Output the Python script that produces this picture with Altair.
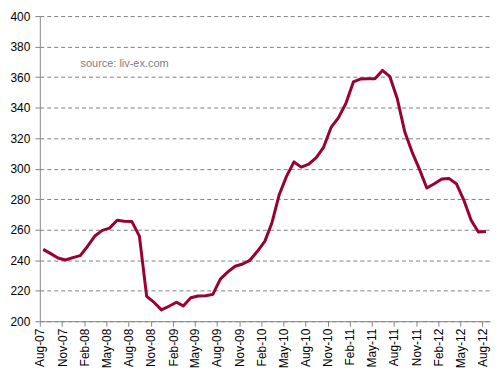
import altair as alt
import pandas as pd

start_year, start_month = 2007, 8
values = [
    247.1, 244.3, 241.4, 240.1, 241.7, 243.0, 249.3, 255.8, 259.5, 261.0,
    266.2, 265.5, 265.3, 255.8, 216.3, 212.3, 207.4, 209.8, 212.4, 210.0,
    215.4, 216.5, 216.7, 217.6, 227.6, 232.3, 236.0, 237.5, 239.9, 245.8,
    252.5, 264.0, 282.9, 294.9, 304.4, 301.0, 302.9, 307.2, 314.0, 327.0,
    333.3, 342.7, 356.8, 358.7, 358.9, 358.9, 364.4, 360.5, 346.0, 324.2,
    311.0, 299.5, 287.3, 290.1, 293.2, 293.6, 290.1, 279.7, 266.2, 258.4,
    258.8,
]

dates = []
for i in range(len(values)):
    m = start_month - 1 + i
    y = start_year + m // 12
    mm = m % 12 + 1
    dates.append(f"{y:04d}-{mm:02d}-15")

df = pd.DataFrame({"date": dates, "value": values})

tick_dates = []
for i in range(0, 61, 3):
    m = start_month - 1 + i
    tick_dates.append(alt.DateTime(year=start_year + m // 12, month=m % 12 + 1, date=1, utc=True))

y_ticks = list(range(200, 401, 20))

FONT = "Liberation Sans"

line = alt.Chart(df).mark_line(color="#990033", strokeWidth=3, strokeJoin="round").encode(
    x=alt.X(
        "date:T",
        scale=alt.Scale(
            type="utc",
            domain=[alt.DateTime(year=2007, month=8, date=1, utc=True),
                    alt.DateTime(year=2012, month=9, date=1, utc=True)],
        ),
        axis=alt.Axis(
            values=tick_dates, format="%b-%y", labelAngle=270, title=None,
            grid=False, tickSize=5, tickColor="#868686", domainColor="#868686",
            labelFont=FONT, labelFontSize=12, labelColor="#000000", labelPadding=2,
            labelOverlap=False,
        ),
    ),
    y=alt.Y(
        "value:Q",
        scale=alt.Scale(domain=[200, 400], nice=False, zero=False),
        axis=alt.Axis(
            values=y_ticks, title=None, grid=True, gridColor="#808080",
            gridDash=[4, 3], gridWidth=1, tickSize=5, tickColor="#868686",
            domainColor="#868686", labelFont=FONT, labelFontSize=12,
            labelColor="#000000", labelPadding=5,
        ),
    ),
)

source = alt.Chart(pd.DataFrame({"t": ["source: liv-ex.com"]})).mark_text(
    align="left", baseline="middle", font=FONT, fontSize=11, color="#808080"
).encode(text="t:N", x=alt.value(41), y=alt.value(48))

chart = alt.layer(line, source).properties(
    width=453, height=307,
    autosize=alt.AutoSizeParams(type="none"),
    padding={"left": 32, "top": 7, "right": 5, "bottom": 50},
).configure_view(stroke=None)

chart.save("out.html", embed_options={"renderer": "svg", "actions": False})
